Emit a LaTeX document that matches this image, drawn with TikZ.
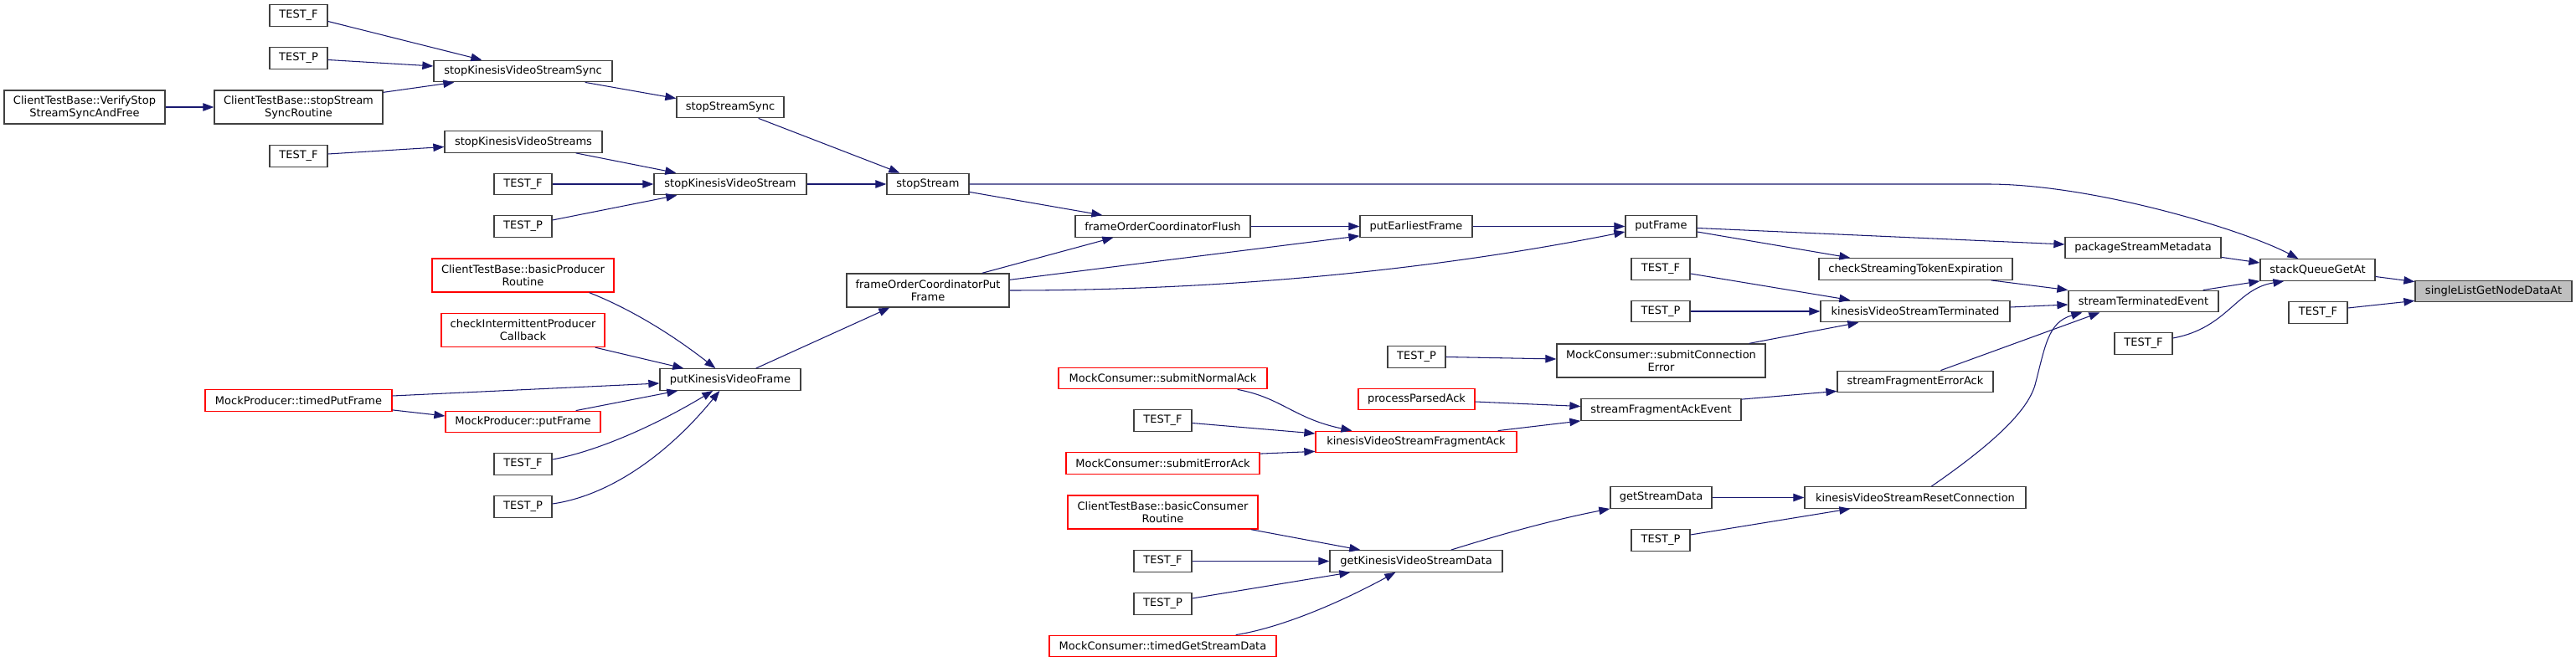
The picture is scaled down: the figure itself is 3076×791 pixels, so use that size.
\documentclass[tikz,border=0pt]{standalone}
\usepackage{fontspec}
\setmainfont{DejaVu Sans}
\usetikzlibrary{arrows.meta,calc}
\definecolor{edgeblue}{HTML}{191970}
\definecolor{nodeborder}{HTML}{404040}
\definecolor{nodegray}{HTML}{BFBFBF}
\begin{document}
\begin{tikzpicture}[x=1pt,y=-1pt,
  nb/.style={draw=nodeborder, line width=1.3pt, fill=white, inner sep=0pt, minimum height=25.5pt, align=center, font=\fontsize{13}{15}\selectfont},
  rb/.style={nb, draw=red},
  tall/.style={minimum height=40pt},
  ed/.style={draw=edgeblue, line width=1.05pt, -{Triangle[length=13pt,width=9.5pt]}}]
\fill[white] (0,0) rectangle (3076,791);
\useasboundingbox (0,0) rectangle (3076,791);
% nodes
\node[nb, fill=nodegray, minimum width=187pt] (sl) at (2977.5,348) {singleListGetNodeDataAt};
\node[nb, minimum width=137pt] (sq) at (2767.5,322.5) {stackQueueGetAt};
\node[nb, minimum width=70pt] (tfsl) at (2768,373.5) {TEST\_F};
\node[nb, minimum width=186pt] (psm) at (2559,296) {packageStreamMetadata};
\node[nb, minimum width=179pt] (ste) at (2559.5,360) {streamTerminatedEvent};
\node[nb, minimum width=69pt] (tfsq) at (2559.5,410.5) {TEST\_F};
\node[nb, minimum width=85pt] (pf) at (1983.5,270.5) {putFrame};
\node[nb, minimum width=231pt] (cste) at (2287.5,321.5) {checkStreamingTokenExpiration};
\node[nb, minimum width=226pt] (kvst) at (2287,372) {kinesisVideoStreamTerminated};
\node[nb, minimum width=186pt] (sfea) at (2287,456) {streamFragmentErrorAck};
\node[nb, minimum width=264pt] (kvsrc) at (2287,594.5) {kinesisVideoStreamResetConnection};
\node[nb, minimum width=70pt] (tfkvst) at (1983,321.5) {TEST\_F};
\node[nb, minimum width=70pt] (tpkvst) at (1983,372) {TEST\_P};
\node[nb, tall, minimum width=249pt] (mcsce) at (1983.5,431) {MockConsumer::submitConnection\\Error};
\node[nb, minimum width=69pt] (tpmcsce) at (1691.5,426.5) {TEST\_P};
\node[nb, minimum width=191pt] (sfae) at (1983.5,489.5) {streamFragmentAckEvent};
\node[rb, minimum width=139pt] (ppa) at (1691.5,477) {processParsedAck};
\node[rb, minimum width=240pt] (kvsfa) at (1691,528) {kinesisVideoStreamFragmentAck};
\node[rb, minimum width=249pt] (sna) at (1388.5,452) {MockConsumer::submitNormalAck};
\node[nb, minimum width=69pt] (tfkvsfa) at (1388.5,502.5) {TEST\_F};
\node[rb, minimum width=231pt] (sea) at (1388.5,553.5) {MockConsumer::submitErrorAck};
\node[nb, minimum width=121pt] (gsd) at (1983.5,594.5) {getStreamData};
\node[nb, minimum width=70pt] (tpkvsrc) at (1983,645.5) {TEST\_P};
\node[nb, minimum width=206pt] (gkvsd) at (1691,670.5) {getKinesisVideoStreamData};
\node[rb, tall, minimum width=227pt] (bcr) at (1388.5,612) {ClientTestBase::basicConsumer\\Routine};
\node[nb, minimum width=69pt] (tfgk) at (1388.5,670.5) {TEST\_F};
\node[nb, minimum width=69pt] (tpgk) at (1388.5,721.5) {TEST\_P};
\node[rb, minimum width=271pt] (tgsd) at (1388.5,772) {MockConsumer::timedGetStreamData};
\node[nb, minimum width=134pt] (pef) at (1691,270.5) {putEarliestFrame};
\node[nb, minimum width=209pt] (focf) at (1388.5,270.5) {frameOrderCoordinatorFlush};
\node[nb, tall, minimum width=194pt] (focpf) at (1108,347) {frameOrderCoordinatorPut\\Frame};
\node[nb, minimum width=98pt] (ss) at (1108,220) {stopStream};
\node[nb, minimum width=128pt] (sss) at (872,128) {stopStreamSync};
\node[nb, minimum width=182pt] (skvs) at (872,220) {stopKinesisVideoStream};
\node[nb, minimum width=213pt] (skvss) at (624.5,85) {stopKinesisVideoStreamSync};
\node[nb, minimum width=188pt] (skvsS) at (625,169.5) {stopKinesisVideoStreams};
\node[nb, minimum width=69pt] (tfskvs) at (624.5,220) {TEST\_F};
\node[nb, minimum width=69pt] (tpskvs) at (624.5,270.5) {TEST\_P};
\node[nb, minimum width=69pt] (tfa) at (356.5,18.5) {TEST\_F};
\node[nb, minimum width=69pt] (tpa) at (356.5,69.5) {TEST\_P};
\node[nb, tall, minimum width=201pt] (sssr) at (356.5,128) {ClientTestBase::stopStream\\SyncRoutine};
\node[nb, tall, minimum width=192pt] (vs) at (101,128) {ClientTestBase::VerifyStop\\StreamSyncAndFree};
\node[nb, minimum width=69pt] (tfskvsS) at (356.5,186.5) {TEST\_F};
\node[nb, minimum width=168pt] (pkvf) at (872,453.5) {putKinesisVideoFrame};
\node[rb, tall, minimum width=217pt] (bpr) at (624.5,329) {ClientTestBase::basicProducer\\Routine};
\node[rb, tall, minimum width=195pt] (cipc) at (624.5,394.5) {checkIntermittentProducer\\Callback};
\node[rb, minimum width=223pt] (tpf) at (356.5,478.5) {MockProducer::timedPutFrame};
\node[rb, minimum width=185pt] (mppf) at (624.5,504) {MockProducer::putFrame};
\node[nb, minimum width=69pt] (tfpk) at (624.5,554.5) {TEST\_F};
\node[nb, minimum width=69pt] (tppk) at (624.5,605.5) {TEST\_P};
% edges
\draw[ed] ([shift={(0,7)}]tfa.east) -- ([shift={(58,0)}]skvss.north west);
\draw[ed] ([shift={(0,2)}]tpa.east) -- ([shift={(0,-6)}]skvss.west);
\draw[ed] ([shift={(0,3)}]sssr.north east) -- ([shift={(25,0)}]skvss.south west);
\draw[ed] (vs.east) -- (sssr.west);
\draw[ed] ([shift={(0,-2.5)}]tfskvsS.east) -- ([shift={(0,6)}]skvsS.west);
\draw[ed] ([shift={(-33,0)}]skvss.south east) -- ([shift={(0,3)}]sss.north west);
\draw[ed] ([shift={(-31,0)}]sss.south east) -- ([shift={(16,0)}]ss.north west);
\draw[ed] ([shift={(-32,0)}]skvsS.south east) -- ([shift={(27,0)}]skvs.north west);
\draw[ed] (tfskvs.east) -- (skvs.west);
\draw[ed] ([shift={(0,-7.5)}]tpskvs.east) -- ([shift={(28,0)}]skvs.south west);
\draw[ed] (skvs.east) -- (ss.west);
\draw[ed] ([shift={(0,-4)}]ss.south east) -- ([shift={(33,0)}]focf.north west);
\draw[ed] (ss.east) -- (2373,220) .. controls (2500,220) and (2680,275) .. ([shift={(46,0)}]sq.north west);
\draw[ed] ([shift={(-33,0)}]focpf.north east) -- ([shift={(46,0)}]focf.south west);
\draw[ed] ([shift={(0,8)}]focpf.north east) -- ([shift={(0,-2)}]pef.south west);
\draw[ed] (focpf.east) .. controls (1450,347) and (1700,325) .. ([shift={(0,6.5)}]pf.west);
\draw[ed] (focf.east) -- (pef.west);
\draw[ed] (pef.east) -- (pf.west);
\draw[ed] ([shift={(0,2)}]pf.east) -- ([shift={(0,-4)}]psm.west);
\draw[ed] ([shift={(0,6.5)}]pf.east) -- ([shift={(38,0)}]cste.north west);
\draw[ed] ([shift={(0,5.5)}]tfkvst.east) -- ([shift={(36,0)}]kvst.north west);
\draw[ed] (tpkvst.east) -- (kvst.west);
\draw[ed] ([shift={(-20,0)}]mcsce.north east) -- ([shift={(46,0)}]kvst.south west);
\draw[ed] ([shift={(-26,0)}]cste.south east) -- (ste.north west);
\draw[ed] ([shift={(0,-5)}]kvst.east) -- ([shift={(0,4)}]ste.west);
\draw[ed] ([shift={(124,0)}]sfea.north west) -- ([shift={(38,0)}]ste.south west);
\draw[ed] ([shift={(152,0)}]kvsrc.north west) .. controls (2370,537) and (2420,495) .. (2430,460) .. controls (2442,415) and (2445,385) .. ([shift={(17,0)}]ste.south west);
\draw[ed] ([shift={(0,-2)}]psm.south east) -- ([shift={(0,-8.5)}]sq.west);
\draw[ed] ([shift={(-19,0)}]ste.north east) -- (sq.south west);
\draw[ed] ([shift={(0,-6.5)}]tfsq.east) .. controls (2660,392) and (2670,345) .. ([shift={(29,0)}]sq.south west);
\draw[ed] ([shift={(0,8)}]sq.east) -- ([shift={(0,2)}]sl.north west);
\draw[ed] ([shift={(0,-5.5)}]tfsl.east) -- ([shift={(0,-2)}]sl.south west);
\draw[ed] (tpmcsce.east) -- ([shift={(0,-2)}]mcsce.west);
\draw[ed] ([shift={(0,3)}]ppa.east) -- ([shift={(0,-4)}]sfae.west);
\draw[ed] ([shift={(-23,0)}]kvsfa.north east) -- (sfae.south west);
\draw[ed] ([shift={(0,1)}]sfae.north east) -- ([shift={(0,-2)}]sfea.south west);
\draw[ed] ([shift={(-36,0)}]sna.south east) .. controls (1530,475) and (1545,500) .. ([shift={(44,0)}]kvsfa.north west);
\draw[ed] ([shift={(0,3)}]tfkvsfa.east) -- ([shift={(0,-10)}]kvsfa.west);
\draw[ed] ([shift={(0,2)}]sea.north east) -- ([shift={(0,-2)}]kvsfa.south west);
\draw[ed] (gsd.east) -- (kvsrc.west);
\draw[ed] ([shift={(0,-6.5)}]tpkvsrc.east) -- ([shift={(55,0)}]kvsrc.south west);
\draw[ed] ([shift={(-62,0)}]gkvsd.north east) .. controls (1800,636) and (1860,620) .. (gsd.south west);
\draw[ed] ([shift={(-9,0)}]bcr.south east) -- ([shift={(37,0)}]gkvsd.north west);
\draw[ed] (tfgk.east) -- (gkvsd.west);
\draw[ed] ([shift={(0,-6.5)}]tpgk.east) -- ([shift={(25,0)}]gkvsd.south west);
\draw[ed] ([shift={(-49,0)}]tgsd.north east) .. controls (1530,750) and (1600,720) .. ([shift={(79,0)}]gkvsd.south west);
\draw[ed] ([shift={(-54,0)}]pkvf.north east) -- ([shift={(52,0)}]focpf.south west);
\draw[ed] ([shift={(-30,0)}]bpr.south east) .. controls (740,364) and (790,390) .. ([shift={(67,0)}]pkvf.north west);
\draw[ed] ([shift={(-12,0)}]cipc.south east) -- ([shift={(29,0)}]pkvf.north west);
\draw[ed] ([shift={(0,-5.5)}]tpf.east) -- ([shift={(0,4.5)}]pkvf.west);
\draw[ed] ([shift={(0,-2)}]tpf.south east) -- ([shift={(0,-7)}]mppf.west);
\draw[ed] ([shift={(-30,0)}]mppf.north east) -- ([shift={(22,0)}]pkvf.south west);
\draw[ed] ([shift={(0,-5.5)}]tfpk.east) .. controls (710,540) and (780,510) .. ([shift={(64,0)}]pkvf.south west);
\draw[ed] ([shift={(0,-3.5)}]tppk.east) .. controls (730,592) and (800,540) .. ([shift={(72,0)}]pkvf.south west);
\end{tikzpicture}
\end{document}
